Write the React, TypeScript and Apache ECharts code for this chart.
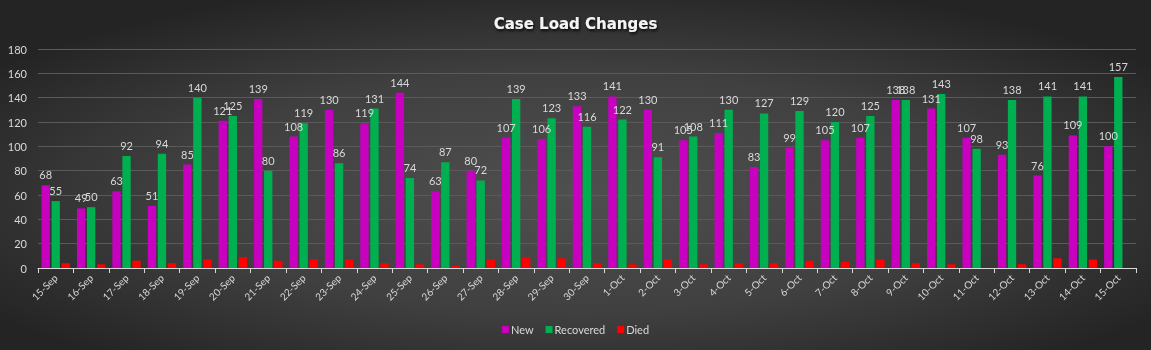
import React, { useEffect, useRef } from "react";
import * as echarts from "echarts";

const categories = [
  "15-Sep", "16-Sep", "17-Sep", "18-Sep", "19-Sep", "20-Sep", "21-Sep", "22-Sep", "23-Sep", "24-Sep",
  "25-Sep", "26-Sep", "27-Sep", "28-Sep", "29-Sep", "30-Sep", "1-Oct", "2-Oct", "3-Oct", "4-Oct",
  "5-Oct", "6-Oct", "7-Oct", "8-Oct", "9-Oct", "10-Oct", "11-Oct", "12-Oct", "13-Oct", "14-Oct", "15-Oct",
];
const newCases = [68, 49, 63, 51, 85, 121, 139, 108, 130, 119, 144, 63, 80, 107, 106, 133, 141, 130, 105, 111, 83, 99, 105, 107, 138, 131, 107, 93, 76, 109, 100];
const recovered = [55, 50, 92, 94, 140, 125, 80, 119, 86, 131, 74, 87, 72, 139, 123, 116, 122, 91, 108, 130, 127, 129, 120, 125, 138, 143, 98, 138, 141, 141, 157];
const died = [4, 3, 6, 4, 7, 9, 6, 7, 7, 4, 3, 2, 7, 9, 8, 4, 3, 7, 3, 4, 4, 6, 5, 7, 4, 3, 0, 3, 8, 7, 0];
const yTicks = { min: 0, max: 180, interval: 20 };

const FONT = "Lato, 'Open Sans', sans-serif";
const TXT = "#d9d9d9";

export default function App() {
  const ref = useRef<HTMLDivElement>(null);
  useEffect(() => {
    if (!ref.current) return;
    const chart = echarts.init(ref.current, undefined, { renderer: "svg" });
    const label = {
      show: true,
      position: "top" as const,
      color: TXT,
      fontSize: 11,
      fontFamily: FONT,
      distance: 5,
    };
    chart.setOption({
      animation: false,
      backgroundColor: {
        type: "radial",
        x: 0.5,
        y: 0.55,
        r: 0.62,
        colorStops: [
          { offset: 0, color: "#4f4f4f" },
          { offset: 0.55, color: "#404040" },
          { offset: 1, color: "#242424" },
        ],
      },
      title: {
        text: "Case Load Changes",
        left: "center",
        top: 11,
        textStyle: {
          color: "#f4f4f4",
          fontSize: 15,
          fontWeight: "bold",
          fontFamily: "'DejaVu Sans', sans-serif",
          textShadowColor: "rgba(0,0,0,0.85)",
          textShadowBlur: 3,
          textShadowOffsetX: 1,
          textShadowOffsetY: 2,
        },
      },
      legend: {
        bottom: 10,
        left: "center",
        itemWidth: 7,
        itemHeight: 7,
        itemGap: 12,
        icon: "rect",
        textStyle: { color: TXT, fontSize: 11, fontFamily: FONT, padding: [0, 0, 0, -3] },
        data: ["New", "Recovered", "Died"],
      },
      grid: { left: 38, right: 15, top: 49, bottom: 82 },
      xAxis: {
        type: "category",
        data: categories,
        axisLine: { lineStyle: { color: "#d9d9d9", width: 1 } },
        axisTick: { show: true, length: 5, lineStyle: { color: "#d9d9d9" } },
        axisLabel: {
          color: TXT,
          fontSize: 10,
          fontFamily: FONT,
          rotate: 45,
          interval: 0,
          margin: 8,
        },
      },
      yAxis: {
        type: "value",
        min: yTicks.min,
        max: yTicks.max,
        interval: yTicks.interval,
        axisLine: { show: false },
        axisTick: { show: false },
        splitLine: { lineStyle: { color: "#5a5a5a", width: 1 } },
        axisLabel: { color: TXT, fontSize: 11, fontFamily: FONT, margin: 11 },
      },
      series: [
        {
          name: "New",
          type: "bar",
          data: newCases,
          itemStyle: { color: "#c800c0" },
          barGap: "20%",
          barCategoryGap: "20%",
          label,
        },
        {
          name: "Recovered",
          type: "bar",
          data: recovered,
          itemStyle: { color: "#00b050" },
          label,
        },
        {
          name: "Died",
          type: "bar",
          data: died,
          itemStyle: { color: "#ff0000" },
        },
      ],
    });
    return () => chart.dispose();
  }, []);
  return (
    <div
      ref={ref}
      style={{ position: "fixed", left: 0, top: 0, width: 1151, height: 350 }}
    />
  );
}
